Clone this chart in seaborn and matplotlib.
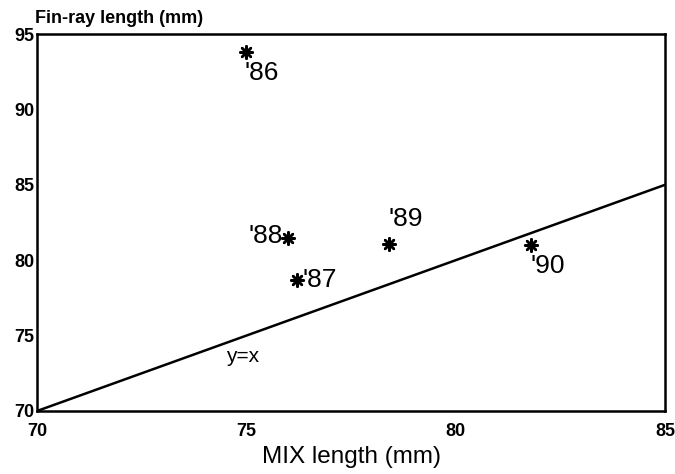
import matplotlib
matplotlib.use("Agg")
import matplotlib.pyplot as plt
import seaborn as sns
import pandas as pd

# Data
years = ["'86", "'88", "'87", "'89", "'90"]
mix_length = [75.0, 76.0, 76.2, 78.4, 81.8]
finray_length = [93.8, 81.5, 78.7, 81.1, 81.0]
line_x = [70, 85]
line_y = [70, 85]
x_ticks = [70, 75, 80, 85]
y_ticks = [70, 75, 80, 85, 90, 95]

sns.set_style("white")
plt.rcParams['font.family'] = ['Liberation Sans', 'DejaVu Sans']
plt.rcParams['text.color'] = 'black'
plt.rcParams['axes.labelcolor'] = 'black'
plt.rcParams['xtick.color'] = 'black'
plt.rcParams['ytick.color'] = 'black'

df = pd.DataFrame({"mix": mix_length, "fin": finray_length, "year": years})

fig = plt.figure(figsize=(6.75, 4.74), dpi=100)
ax = fig.add_axes([0.055, 0.133, 0.930, 0.795])

sns.lineplot(x=line_x, y=line_y, ax=ax, color="black", linewidth=1.8)
sns.scatterplot(data=df, x="mix", y="fin", ax=ax, marker=(8, 2, 0), s=80,
                color="black", linewidth=1.8, edgecolor="black")

# label offsets in points
offsets = {"'86": (11, -15, 'center'), "'88": (-4, 1, 'right'), "'87": (4, 0, 'left'),
           "'89": (12, 18, 'center'), "'90": (12, -15, 'center')}
for yr, xv, yv in zip(years, mix_length, finray_length):
    dx, dy, ha = offsets[yr]
    ax.annotate(yr, (xv, yv), xytext=(dx, dy), textcoords="offset points",
                ha=ha, va="center", fontsize=19)

ax.annotate("y=x", (75, 75), xytext=(-3, -15), textcoords="offset points",
            ha="center", va="center", fontsize=15)

ax.set_xlim(70, 85)
ax.set_ylim(70, 95)
ax.set_xticks(x_ticks)
ax.set_yticks(y_ticks)
ax.set_xticklabels([str(t) for t in x_ticks], fontsize=13, fontweight="bold")
ax.set_yticklabels([str(t) for t in y_ticks], fontsize=13, fontweight="bold")
ax.tick_params(axis="x", direction="in", length=5, width=1.5, pad=9)
ax.tick_params(axis="y", direction="in", length=5, width=1.5, pad=2)

for sp in ax.spines.values():
    sp.set_visible(True)
    sp.set_color("black")
    sp.set_linewidth(1.8)

ax.set_xlabel("MIX length (mm)", fontsize=17.5, labelpad=4)
ax.set_ylabel("")
fig.text(0.052, 0.962, "Fin-ray length (mm)", fontsize=13, fontweight="bold",
         ha="left", va="center")

fig.savefig("out.png", dpi=100)
